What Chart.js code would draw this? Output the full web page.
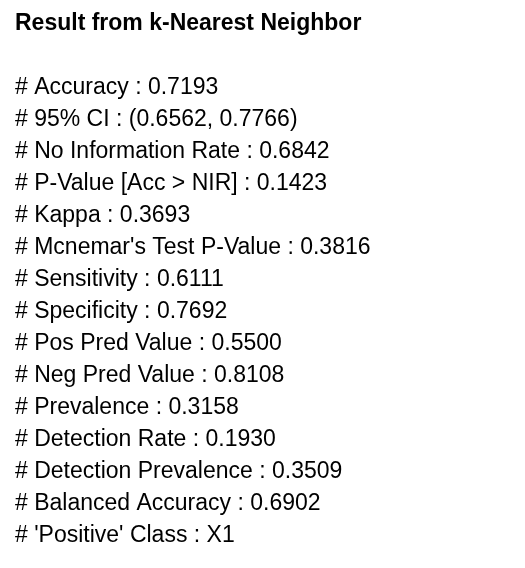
<!DOCTYPE html>
<html><head><meta charset="utf-8">
<script src="https://cdn.jsdelivr.net/npm/chart.js@4"></script>
<style>html,body{margin:0;padding:0;background:#fff}canvas{display:block;width:525px;height:568px}</style>
</head><body>
<canvas id="c" width="455" height="568"></canvas>
<script>
const titleText = "Result from k-Nearest Neighbor";
const metricNames = ["Accuracy","95% CI","No Information Rate","P-Value [Acc > NIR]","Kappa","Mcnemar's Test P-Value","Sensitivity","Specificity","Pos Pred Value","Neg Pred Value","Prevalence","Detection Rate","Detection Prevalence","Balanced Accuracy","'Positive' Class"];
const metricValues = ["0.7193","(0.6562, 0.7766)","0.6842","0.1423","0.3693","0.3816","0.6111","0.7692","0.5500","0.8108","0.3158","0.1930","0.3509","0.6902","X1"];
const lines = metricNames.map((n,i)=>"# "+n+" : "+metricValues[i]);
new Chart(document.getElementById('c'),{
  type:'bar',
  data:{labels:[],datasets:[{data:[]}]},
  options:{
    responsive:false,animation:false,devicePixelRatio:1,
    layout:{padding:{left:15,top:0}},
    scales:{x:{display:false},y:{display:false}},
    plugins:{
      legend:{display:false},tooltip:{enabled:false},
      title:{display:true,text:titleText,align:'start',color:'#000',
        font:{family:'Liberation Sans, Arial',size:23,weight:'bold',lineHeight:1.2},
        padding:{top:10,bottom:34}},
      subtitle:{display:true,text:lines,align:'start',color:'#000',
        font:{family:'Liberation Sans, Arial',size:23,weight:'normal',lineHeight:1.39},
        padding:{top:0,bottom:0}}
    }
  }
});
</script>
</body></html>
